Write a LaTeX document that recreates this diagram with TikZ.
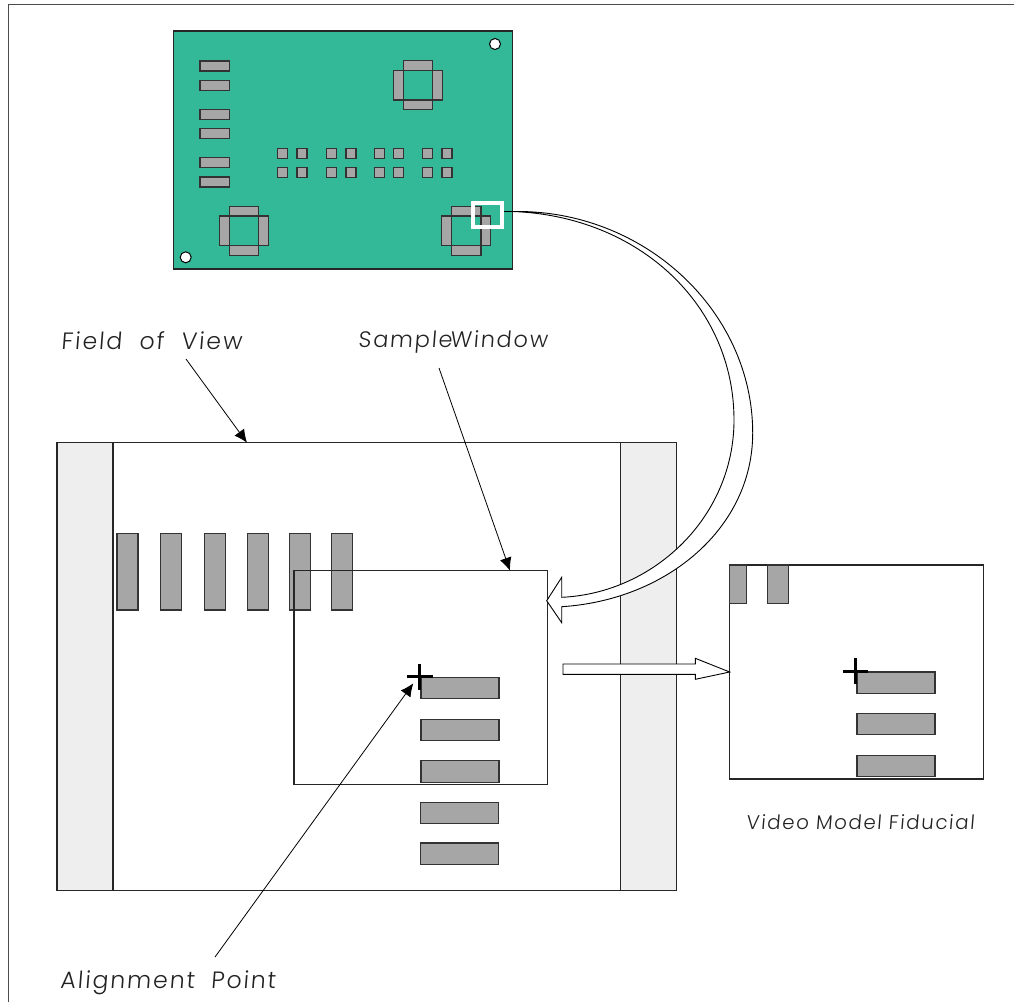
\documentclass[tikz,border=0pt]{standalone}
\usepackage{fontspec}
\setmainfont{Poppins}[UprightFont=* Light,LetterSpace=8,FakeSlant=0.08]
\usetikzlibrary{arrows.meta}
\definecolor{boardgreen}{HTML}{33B898}
\definecolor{padgray}{HTML}{A6A6A6}
\definecolor{bargray}{HTML}{EEEEEE}
\definecolor{inkdark}{HTML}{222222}
\tikzset{
  outline/.style={draw=black!85, line width=1.1pt},
  winbox/.style={outline, inner sep=0pt, outer sep=0pt},
  boardbox/.style={winbox, fill=boardgreen},
  barbox/.style={winbox, fill=bargray},
  pad/.style={draw=black!80, line width=1.1pt, fill=padgray},
  hole/.style={circle, draw=black, fill=white, line width=1pt, minimum size=11pt, inner sep=0pt},
  lbl/.style={anchor=base west, inner sep=0pt, text=inkdark, font=\fontsize{23.6}{26}\selectfont},
  leader/.style={-{Latex[length=13pt,width=12pt]}, line width=0.8pt},
  hollow/.style={draw=black, line width=0.9pt, fill=white, line join=miter},
  crossmark/.style={line width=3pt},
}
\begin{document}
\begin{tikzpicture}[x=1pt,y=-1pt]
  \useasboundingbox (0,0) rectangle (1014,1002);
  % frame
  \draw[line width=1.6pt, black!70] (8.5,1002) -- (8.5,4.5) -- (1014,4.5);

  % board
  \node[boardbox, minimum width=339pt, minimum height=238pt] (board) at (343,150) {};
  \node[hole] (holea) at (495,44) {};
  \node[hole] (holeb) at (185.7,257.3) {};
  \foreach \y in {61,80.3,109.3,128.7,157.3,177}
    \draw[pad] (200,\y) rectangle +(29.3,10);
  \foreach \x in {277.7,297,326.7,346,374.3,393.7,422.7,442}
    \foreach \y in {148.3,167.7}
      \draw[pad] (\x,\y) rectangle +(10,10);
  \foreach \cx/\cy in {418/85.3,244/230.7,466.3/230.7} {
    \draw[pad] (\cx-14.7,\cy-24.5) rectangle (\cx+14.7,\cy-14.7);
    \draw[pad] (\cx-14.7,\cy+14.7) rectangle (\cx+14.7,\cy+24.5);
    \draw[pad] (\cx-24.5,\cy-14.7) rectangle (\cx-14.7,\cy+14.7);
    \draw[pad] (\cx+14.7,\cy-14.7) rectangle (\cx+24.5,\cy+14.7);
  }
  \node[draw=white, line width=4pt, minimum width=29pt, minimum height=24pt, inner sep=0pt, outer sep=2pt] (zoomwin) at (487.6,215) {};
  \coordinate (zoomtail) at (512.5,211.5);
  \draw[line width=1.3pt] (zoomwin.east |- zoomtail) -- (zoomtail);

  % field of view
  \node[winbox, minimum width=619pt, minimum height=447.3pt] (fov) at (366.7,666.4) {};
  \node[barbox, minimum width=56pt, minimum height=447.3pt] (barleft) at (85,666.4) {};
  \node[barbox, minimum width=55.6pt, minimum height=447.3pt] (barright) at (648.5,666.4) {};

  \foreach \x in {117,160.7,204.3,247.7,289.3,331.3}
    \draw[pad] (\x,533.5) rectangle +(21,76.5);
  \foreach \y in {677.3,719.3,760.7}
    \draw[pad] (421,\y) rectangle +(78,21.4);
  \foreach \y in {802.3,843}
    \draw[pad] (420.3,\y) rectangle +(78,21.4);

  % sample window
  \node[winbox, minimum width=253.7pt, minimum height=213.6pt] (sample) at (420.8,677.5) {};
  \coordinate (samplecross) at (419.7,676.7);
  \draw[crossmark] ([xshift=-12.7pt]samplecross) -- ([xshift=13pt]samplecross);
  \draw[crossmark] ([yshift=12.4pt]samplecross) -- ([yshift=-13pt]samplecross);

  % model fiducial
  \node[winbox, minimum width=254pt, minimum height=214pt] (model) at (856.7,672) {};
  \draw[pad] (729.7,565) rectangle (746.7,603.3);
  \draw[pad] (767.3,565) rectangle (788.3,603.3);
  \foreach \y in {672,713.7,755.3}
    \draw[pad] (857,\y) rectangle +(78,21.2);
  \coordinate (modelcross) at (855.3,671);
  \draw[crossmark] ([xshift=-12.3pt]modelcross) -- ([xshift=13pt]modelcross);
  \draw[crossmark] ([yshift=12.7pt]modelcross) -- ([yshift=-12.7pt]modelcross);

  % big curved arrow
  \coordinate (curvetip) at (546.7,600.7);
  \draw[hollow] (zoomtail)
    .. controls (644,209) and (752.7,311) .. (752.7,433)
    .. controls (752.7,528) and (667,600) .. (561.7,606.7)
    -- (561.7,622.7) -- (curvetip) -- (561.7,577.3) -- (561.7,597.3)
    .. controls (655,593) and (734,516) .. (734,420)
    .. controls (734,306) and (640,216) .. (zoomtail) -- cycle;

  % straight hollow arrow
  \coordinate (arrowtip) at (model.west);
  \draw[hollow] (563,664) -- (695.3,664) -- (695.3,658.3) -- (arrowtip)
    -- (695.3,679.3) -- (695.3,674.3) -- (563,674.3) -- cycle;

  % labels
  \node[lbl] (fovlabel) at (61,349) {Field\hspace{9pt} of\hspace{9pt} View};
  \node[lbl, font=\fontsize{22.4}{26}\selectfont] (samplelabel) at (358,347) {Sample\hspace{-2pt}Window};
  \node[lbl, font=\fontsize{19.8}{24}\selectfont] (modellabel) at (746,829) {Video Model Fiducial};
  \node[lbl] (alignlabel) at (60,988) {Alignment\hspace{8pt} Point};

  \coordinate (fovstart) at (186,359);
  \coordinate (fovtip) at (247,442.7);
  \coordinate (samplestart) at (439,368);
  \coordinate (sampletip) at (510,570.7);
  \coordinate (alignstart) at (215,957);
  \coordinate (aligntip) at (413.3,683.3);
  \draw[leader] (fovstart) -- (fovtip);
  \draw[leader] (samplestart) -- (sampletip);
  \draw[leader] (alignstart) -- (aligntip);
\end{tikzpicture}
\end{document}
